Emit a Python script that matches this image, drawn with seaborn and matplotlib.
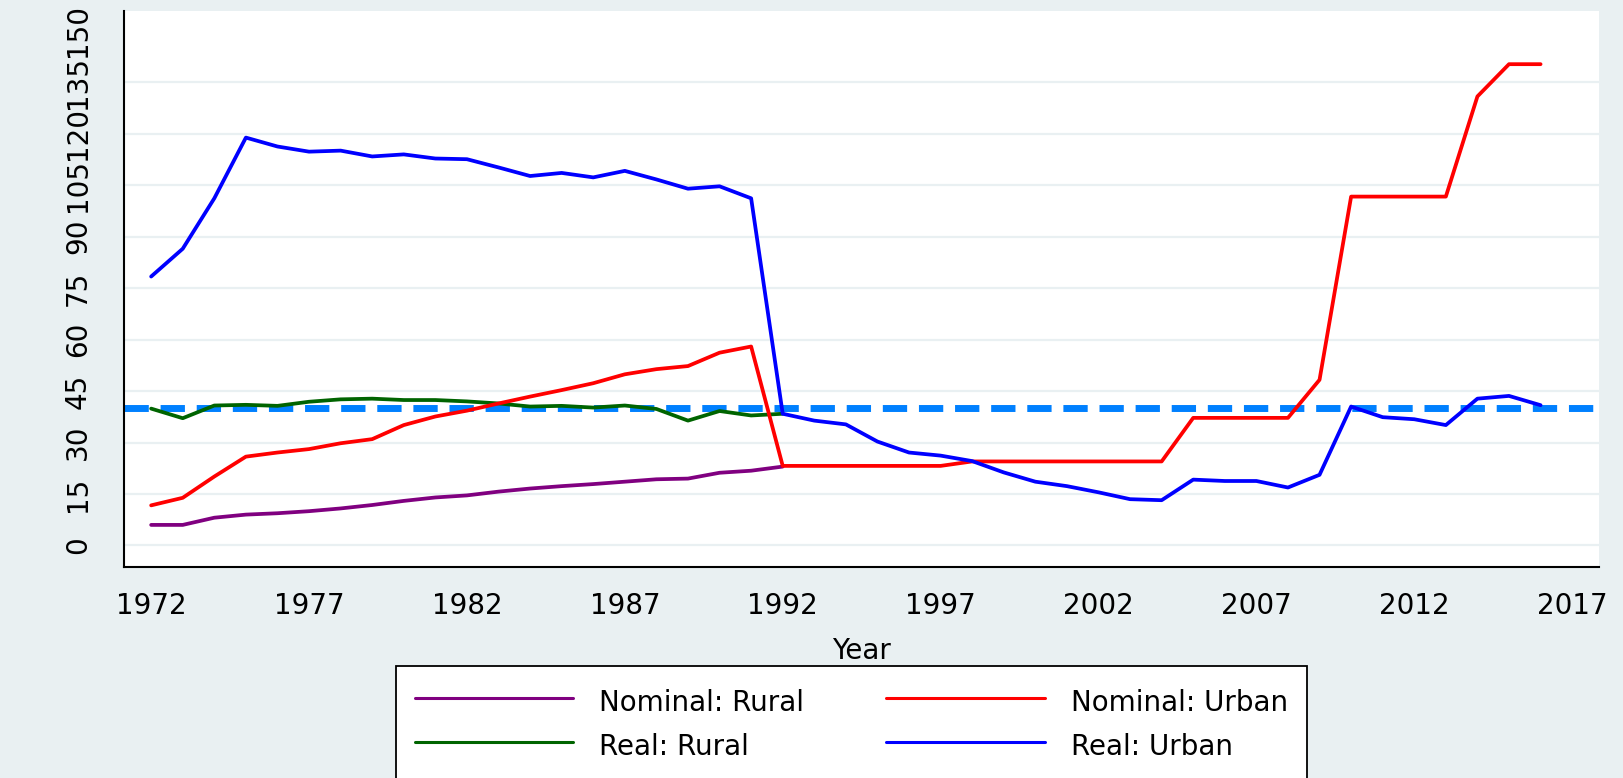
import numpy as np
import pandas as pd
import matplotlib
matplotlib.use("Agg")
import matplotlib.pyplot as plt
import seaborn as sns

# ==================== data ====================
years_rural = list(range(1972, 1993))
years_urban = list(range(1972, 2017))

nominal_rural = [6.0, 6.0, 8.1, 9.0, 9.4, 10.0, 10.8, 11.8, 13.0, 14.0, 14.6,
                 15.7, 16.6, 17.3, 17.9, 18.6, 19.3, 19.5, 21.2, 21.8, 23.0]
real_rural = [39.9, 37.1, 40.8, 41.0, 40.7, 41.9, 42.6, 42.8, 42.4, 42.4, 42.0,
              41.4, 40.5, 40.7, 40.2, 40.8, 39.8, 36.4, 39.2, 37.9, 38.4]
nominal_urban = [11.7, 13.9, 20.1, 25.9, 27.1, 28.1, 29.8, 31.0, 35.1, 37.6,
                 39.3, 41.4, 43.4, 45.3, 47.3, 49.9, 51.4, 52.3, 56.2, 58.0,
                 23.2, 23.2, 23.2, 23.2, 23.2, 23.2,
                 24.5, 24.5, 24.5, 24.5, 24.5, 24.5, 24.5,
                 37.2, 37.2, 37.2, 37.2, 48.3,
                 101.7, 101.7, 101.7, 101.7, 130.9, 140.3, 140.3]
real_urban = [78.4, 86.5, 101.2, 118.9, 116.3, 114.8, 115.1, 113.4, 114.0, 112.8,
              112.6, 110.2, 107.7, 108.6, 107.3, 109.2, 106.7, 104.0, 104.7, 101.2,
              38.4, 36.4, 35.3, 30.3, 27.1, 26.2, 24.6, 21.3, 18.6, 17.3,
              15.5, 13.5, 13.2, 19.2, 18.8, 18.8, 16.9, 20.6, 40.5, 37.4,
              36.8, 35.1, 42.8, 43.6, 40.9]
reference_level = 40

series_names = ["Nominal: Rural", "Real: Rural", "Nominal: Urban", "Real: Urban"]
series_colors = ["#800080", "#006400", "#FF0000", "#0000FF"]
y_ticks = list(range(0, 151, 15))
x_ticks = list(range(1972, 2018, 5))

df = pd.concat([
    pd.DataFrame({"Year": years_rural, "value": nominal_rural, "series": series_names[0]}),
    pd.DataFrame({"Year": years_rural, "value": real_rural, "series": series_names[1]}),
    pd.DataFrame({"Year": years_urban, "value": nominal_urban, "series": series_names[2]}),
    pd.DataFrame({"Year": years_urban, "value": real_urban, "series": series_names[3]}),
], ignore_index=True)

# ==================== style ====================
BG = "#E9F0F2"
sns.set_style("white")
plt.rcParams["font.family"] = ["DejaVu Sans"]
plt.rcParams["text.color"] = "black"
plt.rcParams["xtick.color"] = "black"
plt.rcParams["ytick.color"] = "black"
plt.rcParams["axes.labelcolor"] = "black"

fig = plt.figure(figsize=(16.23, 7.78), dpi=100, facecolor=BG)
ax = fig.add_axes([124 / 1623, 1 - 567 / 778, (1599 - 124) / 1623, (567 - 11) / 778])
ax.set_facecolor("white")

# dashed reference line (behind the series)
ax.axhline(reference_level, color="#0080FF", linewidth=5,
           linestyle=(0, (3.5, 1.7)), zorder=1)

sns.lineplot(data=df, x="Year", y="value", hue="series", hue_order=series_names,
             palette=dict(zip(series_names, series_colors)), linewidth=2.7,
             estimator=None, errorbar=None, ax=ax, zorder=3)

# ==================== axes ====================
ax.set_xlim(1971.14, 2017.85)
ax.set_ylim(-6.27, 155.8)
ax.set_xticks(x_ticks)
ax.set_yticks(y_ticks)
ax.set_yticklabels([str(v) for v in y_ticks], rotation=90, va="center")
ax.tick_params(axis="both", labelsize=20, length=11, width=1.1, color="#222222",
               labelcolor="black", direction="out")
ax.tick_params(axis="y", pad=12)
ax.tick_params(axis="x", pad=7)
ax.set_xlabel("Year", fontsize=20, labelpad=12, color="black")
ax.set_ylabel("")

ax.grid(axis="y", color=BG, linewidth=1.6)
ax.grid(axis="x", visible=False)
ax.yaxis.get_gridlines()[-1].set_visible(False)
ax.set_axisbelow(True)

for side in ["top", "right"]:
    ax.spines[side].set_visible(False)
for side in ["left", "bottom"]:
    ax.spines[side].set_color("black")
    ax.spines[side].set_linewidth(1.5)

# ==================== legend ====================
handles, labels = ax.get_legend_handles_labels()
ax.get_legend().remove()
leg = fig.legend(handles, labels, loc="upper left",
                 bbox_to_anchor=(396 / 1623, 1 - 666 / 778), borderaxespad=0,
                 ncol=2, fontsize=20, handlelength=5.7, handletextpad=0.94,
                 handleheight=1.5, columnspacing=2.95, borderpad=0.68,
                 labelspacing=0.38, frameon=True, fancybox=False, framealpha=1,
                 edgecolor="black")
leg.get_frame().set_linewidth(1.3)
for line in leg.get_lines():
    line.set_linewidth(2.2)
for text in leg.get_texts():
    text.set_color("black")

fig.savefig("out.png", dpi=100, facecolor=BG)
plt.close(fig)
